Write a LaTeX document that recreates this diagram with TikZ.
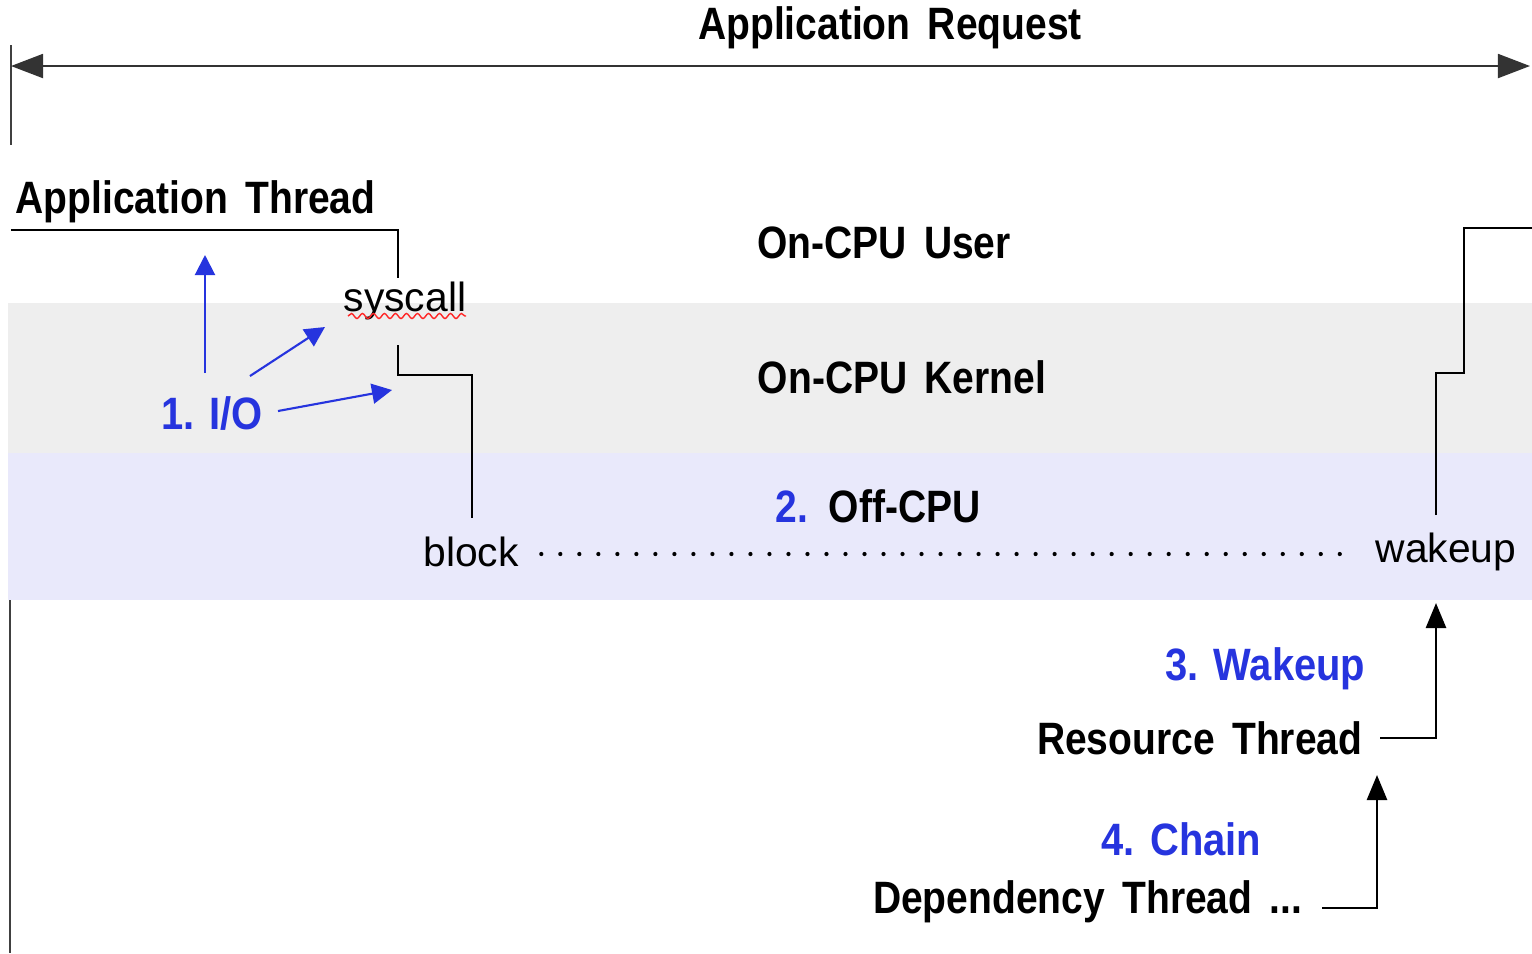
\documentclass[tikz,border=0pt]{standalone}
\usepackage{fontspec}
\setmainfont{Liberation Sans}[BoldFeatures={FakeStretch=0.86}, WordSpace=1.6]
\newfontfamily\stepfont{Liberation Sans}[BoldFeatures={FakeStretch=0.88}, WordSpace=1.05]
\usetikzlibrary{arrows.meta, positioning, calc, decorations.pathmorphing}
\definecolor{stepblue}{RGB}{38,52,222}
\definecolor{kernelgray}{RGB}{238,238,238}
\definecolor{offcpu}{RGB}{233,233,251}
\tikzstyle{title} = [font=\fontsize{12.9}{14}\selectfont\bfseries, inner sep=0pt]
\tikzstyle{event} = [font=\fontsize{11.6}{13}\selectfont, inner sep=0pt]
\tikzstyle{stepl} = [font=\fontsize{12.9}{14}\stepfont\bfseries, inner sep=0pt, text=stepblue]
\tikzstyle{thread} = [line width=0.75pt, black]

\begin{document}
\begin{tikzpicture}[x=0.01cm, y=-0.01cm, >={Triangle[length=0.2cm, width=0.2cm]}]
  \useasboundingbox (0,0) rectangle (1532,953);
  % bands
  \fill[kernelgray] (8,303) rectangle (1532,453);
  \fill[offcpu] (8,453) rectangle (1532,600);

  % request span
  \coordinate (rqleft) at (11,66);
  \coordinate (rqright) at (1530,66);
  \draw[line width=0.5pt, black!75] (11,45) -- (11,145);
  \draw[line width=0.5pt, black!75] (10,600) -- (10,953);
  \draw[line width=0.55pt, black!80, {Triangle[length=0.32cm, width=0.24cm]}-{Triangle[length=0.32cm, width=0.24cm]}] (rqleft) -- (rqright);
  \node[title] (req) at (890,28) {Application Request};

  % states
  \node[title, anchor=west] (appthr) at (15,202) {Application Thread};
  \node[title] (user) at (884,243) {On-CPU User};
  \node[title] (kern) at (902,377) {On-CPU Kernel};
  \node[title] (off) at (878,506) {\textcolor{stepblue}{2.} Off-CPU};

  \node[event] (sys) at (405,301) {syscall};
  \node[event] (blk) at (471,552) {block};
  \node[event] (wak) at (1446,552) {wakeup};
  \draw[red!85, line width=0.4pt, decorate, decoration={snake, amplitude=0.25mm, segment length=1.1mm}] (348,316) -- (466,316);

  % thread path
  \coordinate (t0) at (11,230);
  \coordinate (t1) at (398,278);
  \coordinate (t2) at (398,345);
  \coordinate (t3) at (472,518);
  \coordinate (t4) at (1436,515);
  \coordinate (t5) at (1532,228);
  \draw[thread] (t0) -| (t1);
  \draw[thread] (t2) |- (435,375) -| (t3);
  \draw[thread] (t4) |- (1450,373) -| (1464,300) |- (t5);
  \draw[line width=1.2pt, dash pattern=on 0pt off 0.19cm, line cap=round] ($(blk.east)+(22,2)$) -- ($(wak.west)+(-20,2)$);

  % 1. I/O
  \node[stepl] (io) at (212,413) {1. I/O};
  \draw[->, stepblue, line width=0.6pt] (205,373) -- (205,255);
  \draw[->, stepblue, line width=0.6pt] (250,376) -- (325,327);
  \draw[->, stepblue, line width=0.6pt] (278,411) -- (392,390);

  % 3. Wakeup
  \node[stepl, anchor=east] (wk) at (1366,669) {3. Wakeup};
  \node[title, anchor=east] (res) at (1363,738) {Resource Thread};
  \draw[thread, ->, >={Triangle[length=0.25cm, width=0.2cm]}] ($(res.east)+(17,0)$) -- (1436,738) -- (1436,603);

  % 4. Chain
  \node[stepl, anchor=east] (ch) at (1262,839) {4. Chain};
  \node[title, anchor=east] (dep) at (1303,902) {Dependency Thread ...};
  \draw[thread, ->, >={Triangle[length=0.25cm, width=0.2cm]}] ($(dep.east)+(19,6)$) -- (1377,908) -- (1377,775);
\end{tikzpicture}
\end{document}
